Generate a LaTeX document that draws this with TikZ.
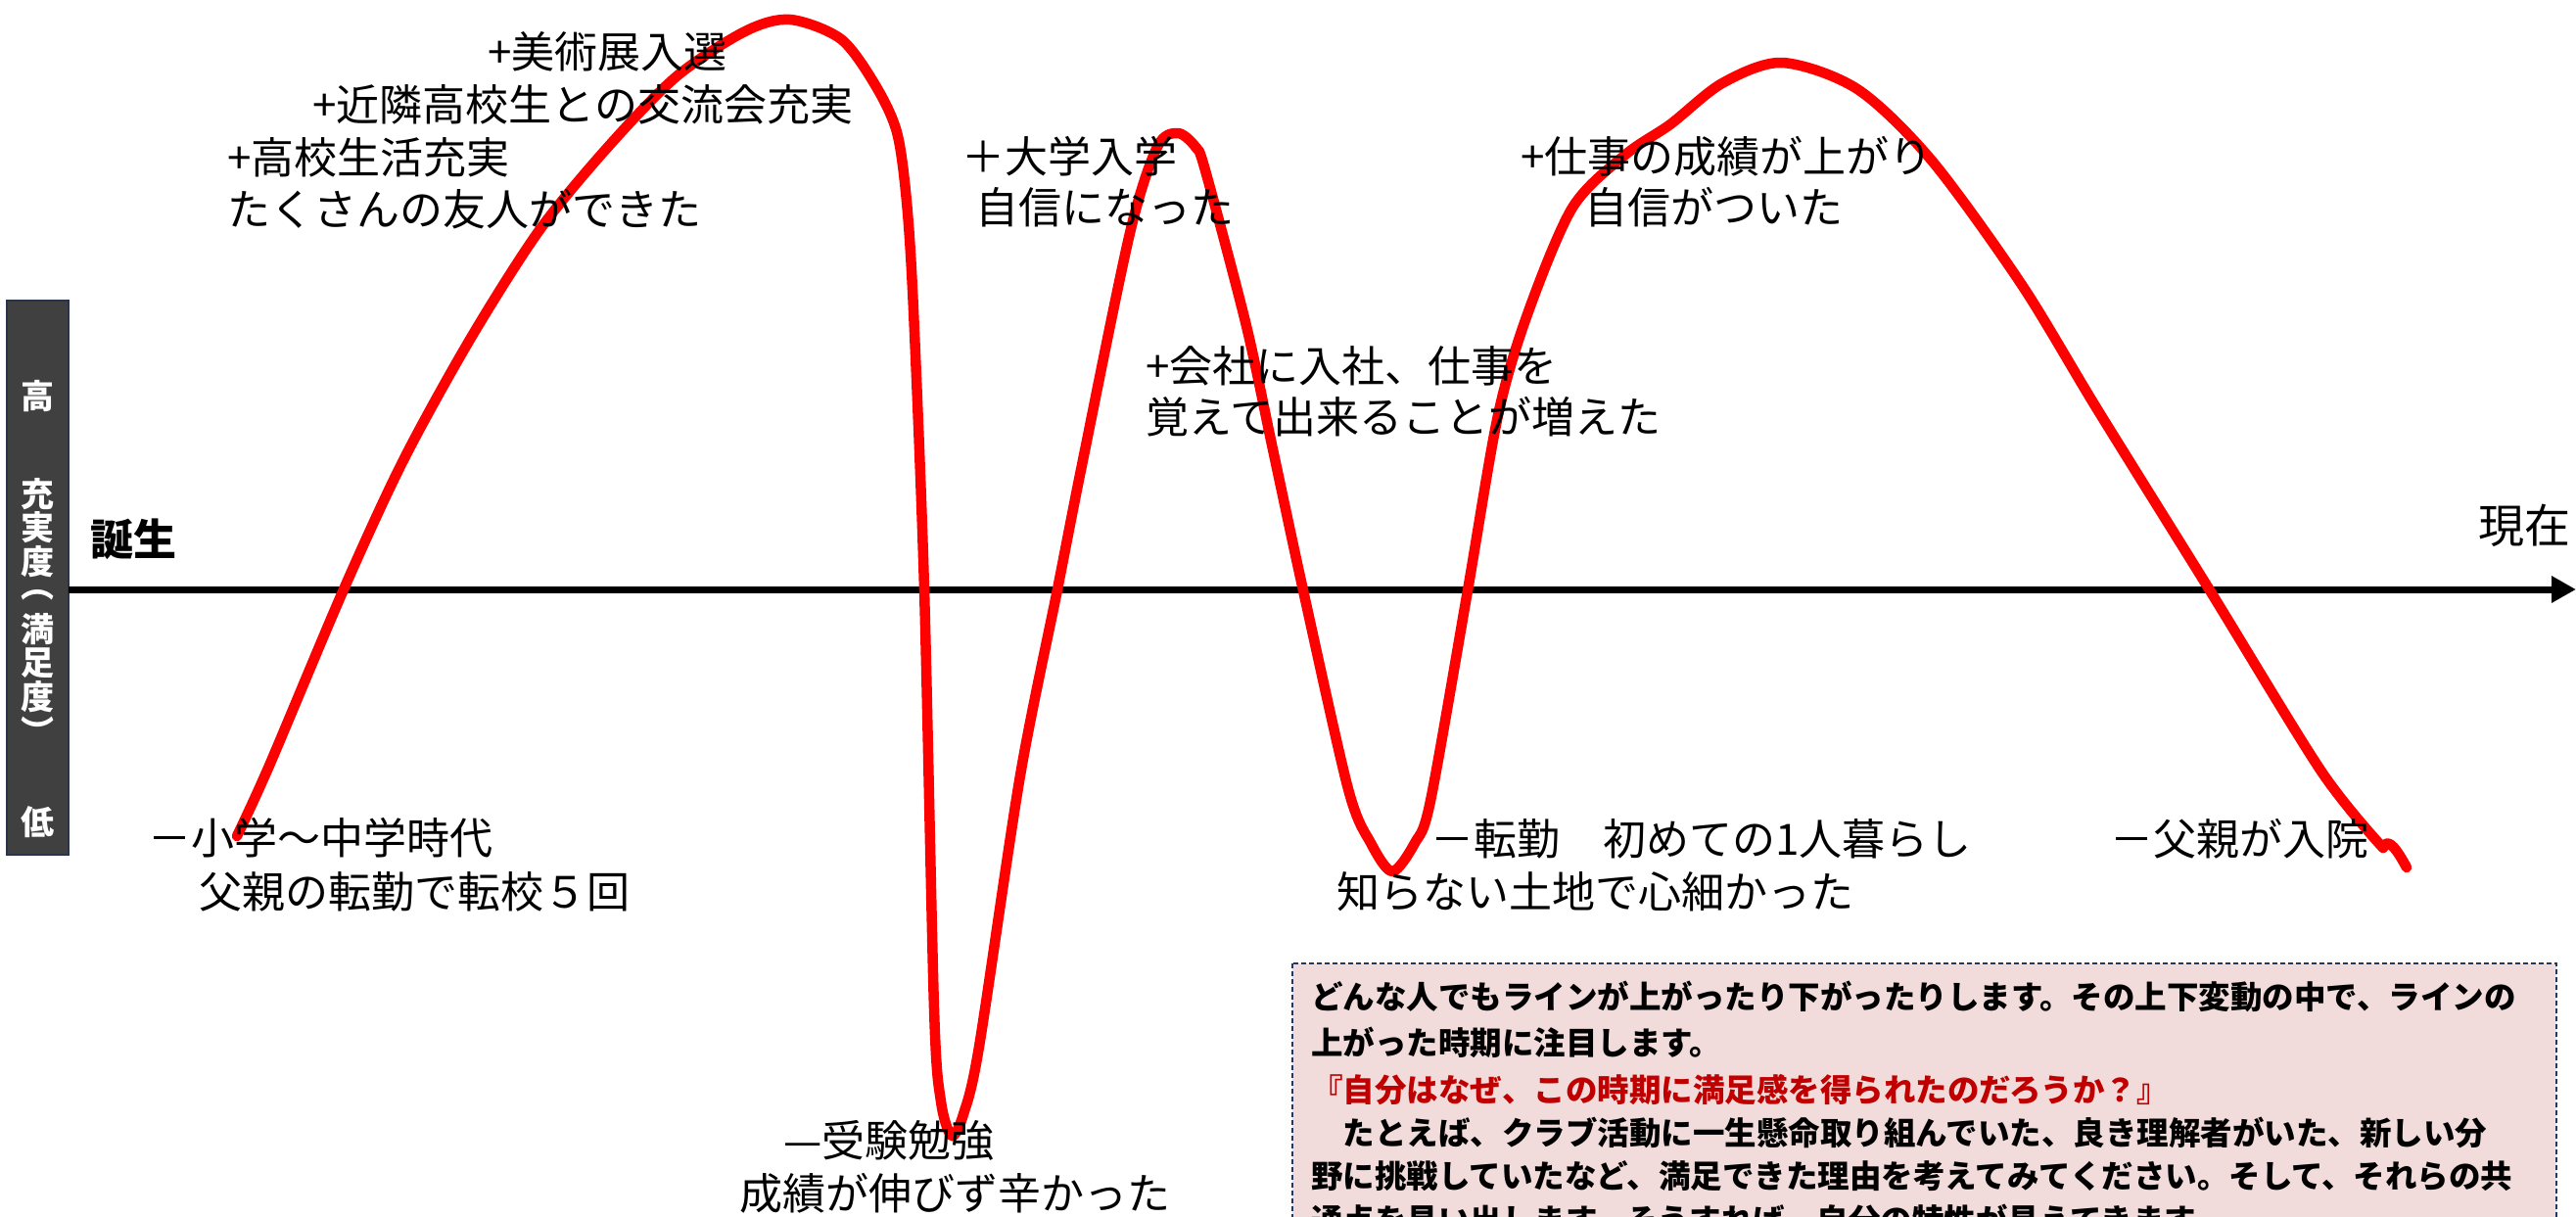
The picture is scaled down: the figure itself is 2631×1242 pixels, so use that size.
\documentclass[tikz,border=0pt]{standalone}
\usepackage{fontspec}
\setmainfont{Noto Sans CJK JP}
\usetikzlibrary{arrows.meta}
\definecolor{curvered}{RGB}{255,0,0}
\definecolor{notefill}{RGB}{242,220,219}
\definecolor{noteline}{RGB}{32,56,100}
\definecolor{notered}{RGB}{192,0,0}
\definecolor{sidefill}{RGB}{64,64,64}
\definecolor{sideline}{RGB}{38,52,78}
\begin{document}
\begin{tikzpicture}[x=1pt,y=-1pt,
  lbl/.style={inner sep=0pt, anchor=west, font=\fontsize{44pt}{52pt}\selectfont},
  sidech/.style={inner sep=0pt, text=white, font=\fontsize{34pt}{34pt}\selectfont\bfseries},
  axislbl/.style={inner sep=0pt, font=\fontsize{44pt}{46pt}\selectfont\bfseries},
  noteln/.style={inner sep=0pt, anchor=west, font=\fontsize{32.5pt}{40pt}\selectfont\bfseries}]
\useasboundingbox (0,0) rectangle (2631,1242);
\clip (0,0) rectangle (2631,1242);
\fill[white] (0,0) rectangle (2631,1242);

% side bar
\node[draw=sideline, fill=sidefill, line width=2pt, minimum width=63pt, minimum height=566pt, inner sep=0pt] (sidebox) at (38.5,590) {};
\node[sidech] (hi) at (38.5,405) {高};
\foreach \c [count=\i] in {充,実,度,︵,満,足,度,︶}
  \node[sidech] (sc\i) at (38.5,470+34.5*\i) {\c};
\node[sidech] (lo) at (38.5,840) {低};

% axis
\coordinate (axL) at (70,602);
\coordinate (axR) at (2631,602);
\draw[line width=7pt, -{Triangle[length=25pt,width=26pt]}] (axL) -- (axR);
\node[axislbl] (birth) at (136,551) {誕生};
\node[axislbl, font=\fontsize{47pt}{50pt}\selectfont] (now) at (2578,537) {現在};

% curve
\draw[curvered, line width=10.5pt, line cap=round, line join=round]
  plot[smooth, tension=0.5] coordinates {
   (242,854) (275,782) (351,602) (412,470) (481,345) (551,235) (621,150)
   (691,78) (761,32) (807,20) (859,40) (894,87) (916,135) (926,206) (933,317)
   (944,602) (954,1030) (961,1125) (972,1160) (984,1138) (1000,1069) (1042,792)
   (1080,602) (1105,475) (1154,238) (1182,150) (1203,136) (1221,150) (1231,174)
   (1273,333) (1300,459) (1331,603) (1377,806) (1400,861) (1422,890) (1445,861)
   (1461,818) (1499,603) (1530,424) (1560,321) (1606,212) (1660,158) (1706,127)
   (1759,85) (1820,64) (1897,91) (1973,164) (2065,291) (2142,418) (2257,603)
   (2371,788) (2434,866)}
  .. controls (2437,858) and (2443,858) .. (2458,886);

% labels
\node[lbl] (a1) at (498,53) {+美術展入選};
\node[lbl] (a2) at (319,107) {+近隣高校生との交流会充実};
\node[lbl] (a3) at (232,161) {+高校生活充実};
\node[lbl] (a4) at (232,214) {たくさんの友人ができた};
\node[lbl] (b1) at (982,160) {＋大学入学};
\node[lbl] (b2) at (996,212) {自信になった};
\node[lbl] (c1) at (1170,374) {+会社に入社、仕事を};
\node[lbl] (c2) at (1170,426) {覚えて出来ることが増えた};
\node[lbl] (d1) at (1553,160) {+仕事の成績が上がり};
\node[lbl] (d2) at (1618,212) {自信がついた};
\node[lbl] (e1) at (151,856) {－小学～中学時代};
\node[lbl] (e2) at (203,911) {父親の転勤で転校５回};
\node[lbl] (f1) at (800,1165) {—受験勉強};
\node[lbl] (f2) at (755,1219) {成績が伸びず辛かった};
\node[lbl] (g1) at (1461,857) {－転勤　初めての1人暮らし};
\node[lbl] (g2) at (1365,911) {知らない土地で心細かった};
\node[lbl] (h1) at (2155,857) {－父親が入院};

% note box
\draw[fill=notefill, draw=noteline, line width=2pt, dash pattern=on 5pt off 3pt] (1320,984) rectangle (2611,1320);
\node[noteln] (n1) at (1339,1018) {どんな人でもラインが上がったり下がったりします。その上下変動の中で、ラインの};
\node[noteln] (n2) at (1339,1065) {上がった時期に注目します。};
\node[noteln, text=notered] (n3) at (1339,1113) {『自分はなぜ、この時期に満足感を得られたのだろうか？』};
\node[noteln] (n4) at (1339,1157) {　たとえば、クラブ活動に一生懸命取り組んでいた、良き理解者がいた、新しい分};
\node[noteln] (n5) at (1339,1201) {野に挑戦していたなど、満足できた理由を考えてみてください。そして、それらの共};
\node[noteln] (n6) at (1339,1246) {通点を見い出します。そうすれば、自分の特性が見えてきます。};
\end{tikzpicture}
\end{document}
